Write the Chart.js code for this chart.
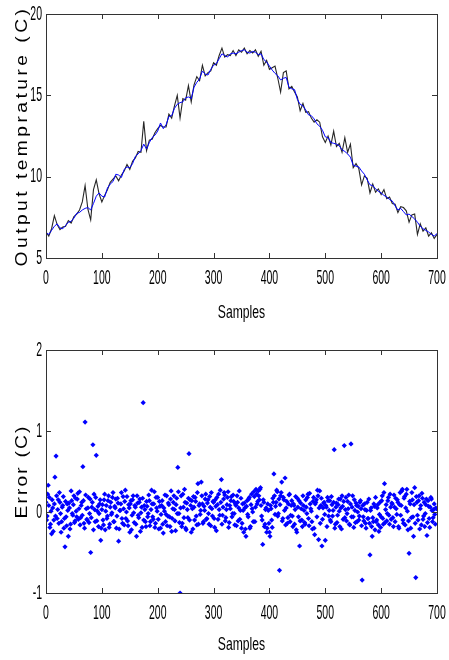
<!DOCTYPE html>
<html>
<head>
<meta charset="utf-8">
<script src="https://cdn.jsdelivr.net/npm/chart.js@4.4.1/dist/chart.umd.min.js"></script>
<style>
  html, body { margin: 0; padding: 0; background: #fff; }
  .plot { width: 449px; height: 330px; }
</style>
</head>
<body>
<div class="plot"><canvas id="temp-chart" width="449" height="330"></canvas></div>
<div class="plot"><canvas id="error-chart" width="449" height="330"></canvas></div>
<script>
// ============================================
// DATA
// ============================================

const LINE_STEP = 5;    // sample spacing of the two temperature traces

const xTicks = [0, 100, 200, 300, 400, 500, 600, 700];
const tempTicks = [5, 10, 15, 20];
const errorTicks = [-1, 0, 1, 2];

// model output (blue)
const modelTemp = [
  6.55, 6.45, 6.70, 6.95, 7.10, 6.85, 6.80, 7.00, 7.20, 7.25,
  7.45, 7.75, 7.80, 7.95, 8.05, 8.10, 7.95, 8.35, 8.80, 9.00,
  8.80, 8.75, 9.30, 9.55, 9.70, 10.15, 10.10, 9.95, 10.45, 10.60,
  10.55, 10.80, 11.25, 11.40, 11.60, 12.00, 11.70, 12.10, 12.40, 12.55,
  12.80, 13.30, 12.95, 13.20, 13.70, 13.75, 14.20, 14.45, 14.55, 14.60,
  14.85, 14.90, 14.80, 15.50, 15.80, 16.00, 16.50, 16.30, 16.25, 16.60,
  16.85, 16.95, 17.25, 17.55, 17.45, 17.35, 17.55, 17.60, 17.55, 17.65,
  17.75, 17.80, 17.65, 17.60, 17.70, 17.65, 17.50, 17.55, 17.20, 17.05,
  16.80, 16.55, 16.35, 16.20, 15.95, 16.05, 16.10, 15.50, 15.40, 15.35,
  14.75, 14.45, 14.35, 14.10, 13.80, 13.75, 13.55, 13.25, 13.10, 12.85,
  12.45, 12.40, 12.10, 12.05, 12.00, 11.90, 11.65, 11.55, 11.40, 11.20,
  10.70, 10.65, 10.60, 10.35, 10.15, 9.80, 9.50, 9.45, 9.25, 9.10,
  9.00, 8.85, 8.75, 8.60, 8.50, 8.20, 7.95, 8.05, 7.85, 7.65,
  7.70, 7.55, 7.40, 7.20, 6.95, 6.80, 6.70, 6.60, 6.45, 6.35,
  6.50
];

// measured temperature (black)
const measuredTemp = [
  6.60, 6.35, 6.80, 7.60, 7.05, 6.75, 6.90, 6.95, 7.30, 7.15,
  7.55, 7.70, 7.95, 8.45, 9.45, 8.00, 7.35, 9.20, 9.80, 8.95,
  8.45, 8.85, 9.20, 9.65, 9.85, 10.05, 9.75, 10.10, 10.35, 10.75,
  10.45, 10.95, 11.15, 11.55, 11.50, 13.40, 11.60, 12.25, 12.30, 12.70,
  12.95, 13.15, 13.05, 13.05, 13.85, 13.60, 14.35, 15.00, 13.60, 14.80,
  14.70, 15.60, 14.60, 15.65, 16.15, 15.90, 16.85, 16.20, 16.40, 16.50,
  17.00, 16.85, 17.45, 17.90, 17.35, 17.50, 17.45, 17.75, 17.45, 17.80,
  17.65, 17.90, 17.55, 17.75, 17.60, 17.80, 17.40, 17.70, 16.85, 17.15,
  16.60, 16.70, 16.80, 16.05, 15.20, 16.40, 16.50, 15.40, 15.55, 15.20,
  14.90, 14.05, 14.50, 13.95, 14.00, 13.60, 13.35, 13.50, 13.35, 12.45,
  12.10, 12.50, 11.95, 12.80, 11.85, 12.05, 11.50, 12.40, 11.50, 12.00,
  10.55, 10.80, 10.50, 9.50, 10.05, 9.90, 9.00, 9.55, 9.05, 9.25,
  8.90, 9.20, 8.65, 8.75, 8.35, 8.30, 7.80, 8.15, 8.10, 7.90,
  7.20, 7.65, 7.70, 6.45, 7.10, 6.65, 6.85, 6.35, 6.55, 6.20,
  6.45
];

// prediction error at even samples 0, 2, 4, ... 698
const errorEven = [
  0.12, -0.05, 0.33, 0.18, -0.15, -0.27, 0.05, -0.10, 0.43, 0.69,
  -0.08, 0.15, 0.24, -0.02, -0.12, 0.08, -0.20, -0.43, -0.06, 0.10,
  -0.30, 0.05, -0.15, 0.14, -0.04, 0.20, -0.11, 0.01, 0.16, -0.09,
  0.25, -0.07, 0.12, 0.56, -0.14, 1.11, 0.04, -0.10, 0.18, -0.02,
  -0.50, 0.06, 0.83, 0.22, -0.12, 0.70, 0.01, -0.18, 0.10, -0.35,
  0.03, -0.10, 0.15, -0.22, 0.08, -0.05, 0.20, -0.15, 0.12, -0.01,
  0.24, -0.12, 0.05, -0.20, 0.17, -0.36, 0.02, 0.10, -0.08, 0.19,
  -0.16, 0.27, 0.00, -0.11, 0.09, -0.25, 0.14, -0.04, 0.20, -0.13,
  0.06, -0.30, 0.11, -0.07, 0.16, -0.01, -0.19, 1.35, 0.08, -0.12,
  0.13, -0.06, 0.21, -0.17, 0.03, 0.10, -0.09, 0.25, -0.14, 0.05,
  0.18, -0.21, 0.07, -0.03, 0.14, -0.26, 0.01, -0.12, 0.20, -0.05,
  0.09, -0.18, 0.26, -0.08, 0.12, 0.03, -0.23, 0.17, 0.55, -0.02,
  -1.00, 0.20, -0.14, 0.06, 0.28, -0.20, 0.11, -0.07, 0.72, 0.15,
  -0.25, 0.04, 0.19, -0.10, 0.13, -0.16, 0.35, 0.08, -0.03, 0.37,
  0.10, -0.12, 0.02, 0.22, -0.08, 0.15, -0.15, 0.06, 0.24, -0.05,
  0.12, -0.19, 0.07, 0.18, -0.09, 0.03, 0.27, 0.40, -0.04, 0.16,
  0.21, -0.07, 0.09, 0.25, -0.13, 0.04, 0.19, -0.02, 0.13, -0.16,
  0.08, 0.20, -0.11, 0.26, 0.02, -0.20, 0.10, -0.25, 0.05, -0.30,
  0.14, -0.06, 0.18, -0.18, 0.22, 0.00, 0.25, -0.12, 0.28, 0.10,
  0.26, 0.15, 0.30, -0.05, -0.40, 0.12, -0.15, 0.05, -0.20, 0.02,
  -0.25, 0.08, -0.10, 0.17, 0.47, -0.03, 0.12, 0.25, -0.02, -0.72,
  0.20, 0.37, -0.08, 0.15, 0.42, 0.05, -0.14, 0.10, 0.22, -0.04,
  0.14, -0.18, 0.08, 0.03, -0.22, 0.17, -0.06, -0.42, 0.11, -0.10,
  0.20, 0.02, -0.15, 0.06, 0.18, -0.08, 0.23, 0.04, -0.12, 0.13,
  -0.20, 0.10, 0.15, 0.27, -0.34, 0.26, 0.08, -0.42, 0.05, 0.12,
  -0.35, 0.06, 0.18, -0.05, 0.14, -0.12, 0.09, 0.02, 0.77, -0.15,
  0.11, -0.04, 0.16, -0.18, 0.05, 0.20, -0.09, 0.82, 0.03, -0.11,
  0.13, 0.21, -0.16, 0.84, 0.06, -0.06, 0.15, -0.13, 0.08, 0.00,
  -0.10, 0.12, 0.04, -0.84, -0.06, 0.10, -0.14, 0.02, -0.08, 0.16,
  -0.53, 0.05, -0.30, -0.12, 0.07, 0.18, -0.10, 0.09, -0.24, 0.12,
  -0.06, 0.20, -0.15, 0.35, 0.03, -0.11, 0.14, -0.04, 0.22, -0.09,
  0.10, -0.18, 0.06, 0.17, -0.03, 0.12, -0.20, 0.24, 0.08, 0.28,
  -0.14, 0.19, 0.05, 0.28, -0.22, -0.51, 0.10, -0.07, 0.15, -0.30,
  0.30, -0.81, 0.12, -0.10, 0.20, 0.04, -0.16, 0.17, -0.05, -0.18,
  0.09, -0.29, 0.14, -0.08, 0.06, 0.16, -0.12, 0.03, -0.03, 0.05
];

// prediction error at odd samples 1, 3, 5, ... 699
const errorOdd = [
  -0.10, 0.22, 0.08, -0.19, 0.01, 0.15, -0.24, 0.10, -0.05, 0.20,
  0.03, -0.14, 0.12, -0.25, 0.06, 0.19, -0.08, 0.13, -0.17, 0.02,
  0.11, -0.21, 0.26, -0.02, 0.09, -0.13, 0.17, -0.06, 0.23, 0.04,
  -0.16, 0.08, -0.04, 0.14, -0.20, 0.21, -0.09, 0.05, -0.13, 0.16,
  -0.07, 0.12, -0.22, 0.03, 0.18, -0.11, 0.07, -0.02, 0.15, -0.20,
  0.09, -0.16, 0.22, 0.01, -0.08, 0.14, -0.19, 0.06, -0.03, 0.18,
  -0.12, 0.07, 0.16, -0.05, 0.11, -0.21, 0.02, 0.24, -0.14, 0.04,
  0.13, -0.08, 0.19, -0.17, 0.05, 0.10, -0.22, 0.15, -0.01, 0.08,
  -0.15, 0.20, -0.04, 0.12, -0.24, 0.06, 0.17, -0.10, 0.03, -0.18,
  0.07, -0.02, 0.14, -0.12, 0.27, -0.06, 0.10, -0.19, 0.18, 0.01,
  -0.09, 0.13, -0.20, 0.08, -0.15, 0.05, 0.21, -0.03, -0.17, 0.11,
  -0.06, 0.16, -0.24, 0.04, 0.20, -0.11, 0.09, -0.02, 0.25, -0.13,
  0.05, -0.18, 0.22, -0.07, 0.12, -0.22, 0.03, 0.17, -0.10, 0.08,
  0.14, -0.21, 0.06, 0.18, -0.05, 0.24, -0.15, 0.10, 0.02, 0.20,
  -0.14, 0.07, 0.16, -0.09, 0.11, -0.02, 0.19, -0.17, 0.04, 0.13,
  -0.08, 0.15, -0.23, 0.09, 0.22, -0.04, 0.12, -0.15, 0.06, 0.24,
  -0.11, 0.03, 0.18, -0.19, 0.08, 0.14, -0.06, 0.21, -0.02, 0.10,
  -0.17, 0.12, 0.05, -0.09, 0.17, -0.14, 0.02, 0.11, -0.21, 0.07,
  -0.03, 0.16, -0.20, 0.09, 0.04, -0.12, 0.19, 0.06, 0.22, 0.13,
  0.20, 0.28, 0.08, -0.10, 0.15, -0.18, 0.03, -0.25, 0.10, -0.14,
  -0.30, 0.04, -0.19, 0.12, 0.20, 0.07, 0.27, -0.05, 0.16, 0.09,
  0.24, -0.11, 0.18, 0.02, -0.16, 0.13, -0.07, 0.21, -0.12, 0.08,
  -0.05, 0.10, -0.15, 0.19, -0.25, 0.06, 0.14, -0.11, 0.04, -0.18,
  0.08, -0.13, 0.15, -0.02, 0.22, -0.17, 0.10, 0.01, -0.21, 0.18,
  -0.28, 0.12, -0.06, 0.20, 0.05, -0.14, 0.17, -0.09, 0.11, -0.03,
  0.08, -0.18, 0.14, 0.02, -0.10, 0.19, -0.05, 0.12, -0.20, 0.06,
  -0.13, 0.09, 0.01, 0.16, -0.21, 0.07, 0.13, -0.07, 0.18, -0.02,
  0.04, -0.15, 0.10, -0.06, 0.20, -0.19, 0.02, 0.11, -0.12, 0.07,
  -0.05, 0.14, -0.17, 0.08, -0.11, 0.03, -0.20, 0.12, -0.08, -0.14,
  0.02, -0.18, -0.07, 0.10, -0.22, -0.12, 0.05, -0.16, -0.03, -0.19,
  0.14, -0.08, 0.24, -0.13, 0.09, -0.02, 0.18, -0.15, 0.06, 0.11,
  -0.07, 0.21, -0.12, 0.04, 0.15, -0.18, 0.09, -0.04, 0.26, -0.10,
  0.17, -0.16, 0.22, 0.01, -0.11, 0.13, -0.20, 0.24, -0.06, 0.09,
  -0.14, 0.19, -0.04, 0.14, -0.21, 0.08, 0.23, -0.09, 0.12, -0.02,
  0.16, -0.13, 0.07, -0.19, 0.18, 0.02, -0.07, 0.10, -0.15, 0.04
];

// ============================================
// HELPERS
// ============================================

const FONT_FAMILY = '"Liberation Sans", Arial, sans-serif';

const toPoints = (values, step, start) => values.map((v, i) => ({ x: start + i * step, y: v }));

// the original figure was squeezed sideways, so text is drawn scaled
function squeezedText(ctx, text, x, y, o) {
  ctx.save();
  ctx.translate(x, y);
  if (o.rotate) ctx.rotate(o.rotate);
  ctx.scale(o.sx, 1);
  ctx.font = o.font;
  ctx.fillStyle = '#000';
  ctx.textAlign = o.align || 'center';
  ctx.textBaseline = o.baseline || 'middle';
  if (o.spacing) ctx.letterSpacing = o.spacing;
  ctx.fillText(text, 0, 0);
  ctx.restore();
}

// MATLAB-style frame: box, inward ticks on all sides, tick labels and titles
const frame = {
  id: 'frame',
  afterDraw(chart, args, opts) {
    const { ctx, chartArea: a, scales: { x, y } } = chart;
    const len = 5;
    ctx.save();
    ctx.strokeStyle = '#333';
    ctx.lineWidth = 1;
    ctx.beginPath();
    x.ticks.forEach(t => {
      const px = Math.round(x.getPixelForValue(t.value)) + 0.5;
      ctx.moveTo(px, a.bottom); ctx.lineTo(px, a.bottom - len);
      ctx.moveTo(px, a.top); ctx.lineTo(px, a.top + len);
    });
    y.ticks.forEach(t => {
      const py = Math.round(y.getPixelForValue(t.value)) + 0.5;
      ctx.moveTo(a.left, py); ctx.lineTo(a.left + len, py);
      ctx.moveTo(a.right, py); ctx.lineTo(a.right - len, py);
    });
    ctx.stroke();
    ctx.strokeRect(Math.round(a.left) + 0.5, Math.round(a.top) + 0.5,
      Math.round(a.right - a.left), Math.round(a.bottom - a.top));
    ctx.restore();

    const tickFont = '21px ' + FONT_FAMILY;
    x.ticks.forEach(t => {
      squeezedText(ctx, String(t.value), x.getPixelForValue(t.value), a.bottom + opts.xLabelGap,
        { font: tickFont, sx: 0.5 });
    });
    y.ticks.forEach(t => {
      squeezedText(ctx, String(t.value), a.left - 4, y.getPixelForValue(t.value),
        { font: tickFont, sx: 0.5, align: 'right' });
    });
    squeezedText(ctx, opts.xTitle, (a.left + a.right) / 2, a.bottom + opts.xTitleGap,
      { font: '19px ' + FONT_FAMILY, sx: 0.64, baseline: 'alphabetic' });
    squeezedText(ctx, opts.yTitle, 27, (a.top + a.bottom) / 2,
      { font: '16px ' + FONT_FAMILY, sx: 1.2, spacing: opts.yTitleSpacing, baseline: 'alphabetic', rotate: -Math.PI / 2 });
  }
};

function axes(yTicks, xHeight) {
  return {
    x: {
      type: 'linear', min: 0, max: 700,
      afterBuildTicks: s => { s.ticks = xTicks.map(v => ({ value: v })); },
      afterFit: s => { s.height = xHeight; },
      grid: { display: false, drawTicks: false },
      border: { display: false },
      ticks: { display: false }
    },
    y: {
      type: 'linear', min: yTicks[0], max: yTicks[yTicks.length - 1],
      afterBuildTicks: s => { s.ticks = yTicks.map(v => ({ value: v })); },
      afterFit: s => { s.width = 46; },
      grid: { display: false, drawTicks: false },
      border: { display: false },
      ticks: { display: false }
    }
  };
}

const common = {
  responsive: false,
  animation: false,
  devicePixelRatio: 1
};

// ============================================
// TOP: output temperature
// ============================================

new Chart(document.getElementById('temp-chart'), {
  type: 'line',
  data: {
    datasets: [
      {
        label: 'Model',
        data: toPoints(modelTemp, LINE_STEP, 0),
        borderColor: '#0000ff',
        borderWidth: 1,
        pointRadius: 0,
        tension: 0
      },
      {
        label: 'Measured',
        data: toPoints(measuredTemp, LINE_STEP, 0),
        borderColor: 'rgba(0, 0, 0, 0.85)',
        borderWidth: 1.1,
        pointRadius: 0,
        tension: 0
      }
    ]
  },
  options: {
    ...common,
    layout: { autoPadding: false, padding: { top: 14, right: 12, left: 0, bottom: 0 } },
    scales: axes(tempTicks, 72),
    plugins: {
      legend: { display: false },
      tooltip: { enabled: false },
      frame: { xTitle: 'Samples', yTitle: 'Output temprature (C)', yTitleSpacing: '2.9px', xLabelGap: 20, xTitleGap: 60 }
    }
  },
  plugins: [frame]
});

// ============================================
// BOTTOM: error
// ============================================

new Chart(document.getElementById('error-chart'), {
  type: 'scatter',
  data: {
    datasets: [{
      label: 'Error',
      data: toPoints(errorEven, 2, 0).concat(toPoints(errorOdd, 2, 1)),
      pointStyle: 'rectRot',
      pointRadius: 2.6,
      pointBorderWidth: 0,
      backgroundColor: '#0000ff',
      borderColor: '#0000ff'
    }]
  },
  options: {
    ...common,
    layout: { autoPadding: false, padding: { top: 20, right: 12, left: 0, bottom: 0 } },
    scales: axes(errorTicks, 67),
    plugins: {
      legend: { display: false },
      tooltip: { enabled: false },
      frame: { xTitle: 'Samples', yTitle: 'Error (C)', yTitleSpacing: '1.8px', xLabelGap: 20, xTitleGap: 57 }
    }
  },
  plugins: [frame]
});
</script>
</body>
</html>
